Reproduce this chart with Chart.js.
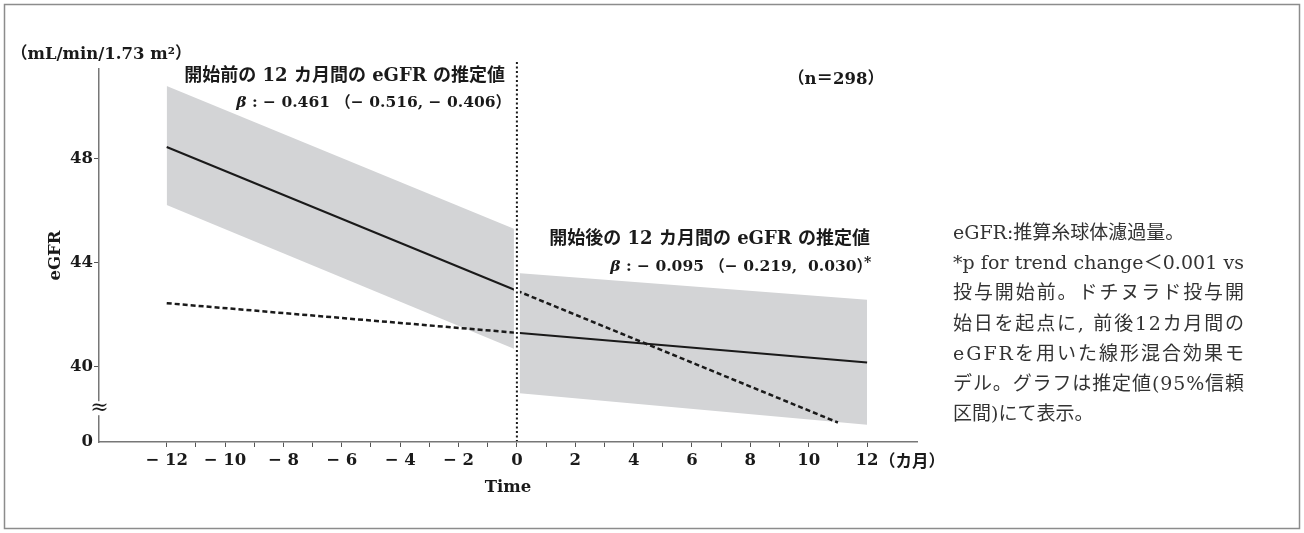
<!DOCTYPE html>
<html>
<head>
<meta charset="utf-8">
<script src="https://cdn.jsdelivr.net/npm/chart.js@4.4.1/dist/chart.umd.min.js"></script>
<style>
  html, body { margin: 0; padding: 0; background: #fff; }
  #egfr { display: block; }
</style>
</head>
<body>
<canvas id="egfr" width="1304" height="533"></canvas>
<script>
// eGFR estimates, months relative to the start of treatment
const preMonths = [-12, 0];
const preEstimate = [48.45, 42.92];
const preUpper = [50.80, 45.26];
const preLower = [46.22, 40.64];

const postMonths = [0, 12];
const postEstimate = [41.30, 40.16];
const postUpper = [43.60, 42.57];
const postLower = [38.99, 37.76];

// pre-start slope carried forward, post-start slope carried back
const preTrendMonths = [0, 11];
const preTrendValues = [42.92, 37.85];
const postTrendMonths = [-12, 0];
const postTrendValues = [42.44, 41.30];

const xTickValues = [-12, -11, -10, -9, -8, -7, -6, -5, -4, -3, -2, -1, 0, 1, 2, 3, 4, 5, 6, 7, 8, 9, 10, 11, 12];
const yTickValues = [40, 44, 48];
const yFloor = 37.1;   // bottom of the broken axis, shown as 0
const yBreak = 38.4;   // where the ≈ break mark sits

const preLabel = '開始前の 12 カ月間の eGFR の推定値';
const preBeta = ' : \u2212 0.461 （\u2212 0.516, \u2212 0.406）';
const postLabel = '開始後の 12 カ月間の eGFR の推定値';
const postBeta = ' : \u2212 0.095 （\u2212 0.219,  0.030）';
const sampleSize = '（n＝298）';
const unitLabel = '（mL/min/1.73 m²）';

const noteLines = [
  'eGFR:推算糸球体濾過量。',
  '*p for trend change＜0.001 vs',
  '投与開始前。ドチヌラド投与開',
  '始日を起点に, 前後12カ月間の',
  'eGFRを用いた線形混合効果モ',
  'デル。グラフは推定値(95%信頼',
  '区間)にて表示。'
];
const justified = [false, true, true, true, true, true, false];

const pts = (xs, ys) => xs.map((x, i) => ({ x, y: ys[i] }));

const INK = '#1a1a1a';
const BAND = '#d3d4d6';
const BOLD = "bold 16.5px 'DejaVu Serif', 'Noto Sans CJK JP'";
const tickFont = { family: "'DejaVu Serif'", size: 16.5, weight: 'bold' };

function line(data, dash, width) {
  return {
    data, showLine: true, pointRadius: 0, fill: false,
    borderColor: INK, borderWidth: width, borderDash: dash, order: 1
  };
}
function band(data, fill) {
  return {
    data, showLine: true, pointRadius: 0, fill,
    borderColor: 'rgba(0,0,0,0)', backgroundColor: BAND, order: 2
  };
}

// draw a row of differently styled pieces, right-aligned at xRight
function drawRuns(ctx, runs, xRight, y) {
  let total = 0;
  runs.forEach(r => { ctx.font = r.font; r.w = ctx.measureText(r.text).width; total += r.w; });
  let cx = xRight - total;
  runs.forEach(r => { ctx.font = r.font; ctx.fillText(r.text, cx, y); cx += r.w; });
}

const decorations = {
  id: 'decorations',
  beforeDraw(chart) {
    const { ctx, width, height } = chart;
    ctx.save();
    ctx.fillStyle = '#fff';
    ctx.fillRect(0, 0, width, height);
    ctx.strokeStyle = '#8c8c8c';
    ctx.lineWidth = 1.5;
    ctx.strokeRect(4.5, 4.5, width - 9, height - 9);
    ctx.restore();
  },
  afterDatasetsDraw(chart) {
    const { ctx, chartArea, scales: { x } } = chart;
    const x0 = x.getPixelForValue(0);
    ctx.save();
    // gap around the treatment start, then the dotted marker
    ctx.fillStyle = '#fff';
    ctx.fillRect(x0 - 3, chartArea.top - 10, 6, chartArea.bottom - chartArea.top + 9);
    ctx.strokeStyle = INK;
    ctx.lineWidth = 2;
    ctx.setLineDash([2, 2.5]);
    ctx.beginPath();
    ctx.moveTo(x0, chartArea.top - 7);
    ctx.lineTo(x0, chartArea.bottom - 1);
    ctx.stroke();
    ctx.restore();
  },
  afterDraw(chart) {
    const { ctx, chartArea, scales: { x, y } } = chart;
    ctx.save();
    ctx.fillStyle = INK;
    ctx.textBaseline = 'middle';

    // axis break
    const by = y.getPixelForValue(yBreak);
    ctx.fillStyle = '#fff';
    ctx.fillRect(chartArea.left - 8, by - 7, 16, 14);
    ctx.fillStyle = INK;
    ctx.font = "22px 'DejaVu Serif'";
    ctx.textAlign = 'center';
    ctx.fillText('≈', chartArea.left + 0.5, by);

    // unit and month labels
    ctx.textAlign = 'left';
    ctx.font = BOLD;
    ctx.fillText(unitLabel, 11, 55);
    ctx.fillText('（カ月）', x.getPixelForValue(12) + 12, 463);

    ctx.textAlign = 'center';
    ctx.fillText(sampleSize, 836, 80);

    // slope annotations
    ctx.textAlign = 'left';
    const titleFont = "bold 18px 'DejaVu Serif', 'Noto Sans CJK JP'";
    const betaFont = "bold 15.5px 'DejaVu Serif', 'Noto Sans CJK JP'";
    const betaItalic = "italic bold 15.5px 'DejaVu Serif'";
    drawRuns(ctx, [{ text: preLabel, font: titleFont }], 505, 76);
    drawRuns(ctx, [{ text: 'β', font: betaItalic }, { text: preBeta, font: betaFont }], 511, 103);
    drawRuns(ctx, [{ text: postLabel, font: titleFont }], 870, 239);
    drawRuns(ctx, [{ text: 'β', font: betaItalic }, { text: postBeta, font: betaFont }], 872, 267);
    ctx.font = "bold 14px 'DejaVu Serif'";
    ctx.fillText('*', 864, 263);

    // footnote, justified like a printed column
    ctx.fillStyle = '#333';
    ctx.font = "19px 'DejaVu Serif', 'Noto Sans CJK JP'";
    const noteLeft = 953, noteRight = 1244;
    noteLines.forEach((t, i) => {
      ctx.letterSpacing = '0px';
      if (justified[i]) {
        const w = ctx.measureText(t).width;
        const n = [...t].length;
        ctx.letterSpacing = ((noteRight - noteLeft - w) / (n - 1)) + 'px';
      }
      ctx.fillText(t, noteLeft, 234 + i * 30.2);
    });
    ctx.letterSpacing = '0px';
    ctx.restore();
  }
};

new Chart(document.getElementById('egfr'), {
  type: 'scatter',
  data: {
    datasets: [
      line(pts(preMonths, preEstimate), [], 2),
      line(pts(postMonths, postEstimate), [], 2),
      line(pts(preTrendMonths, preTrendValues), [5, 3], 2.5),
      line(pts(postTrendMonths, postTrendValues), [5, 3], 2.5),
      band(pts(preMonths, preUpper), '+1'),
      band(pts(preMonths, preLower), false),
      band(pts(postMonths, postUpper), '+1'),
      band(pts(postMonths, postLower), false)
    ]
  },
  options: {
    responsive: false,
    devicePixelRatio: 1,
    animation: false,
    layout: { padding: { left: 0, top: 69, right: 387, bottom: 0 } },
    plugins: { legend: { display: false }, tooltip: { enabled: false } },
    scales: {
      x: {
        type: 'linear',
        min: -14.32,
        max: 13.71,
        afterBuildTicks: s => { s.ticks = xTickValues.map(v => ({ value: v })); },
        afterFit: s => { s.height = 91; },
        ticks: {
          autoSkip: false, maxRotation: 0, padding: 4, color: INK,
          font: tickFont,
          callback: v => (v % 2 !== 0 ? '' : v < 0 ? '\u2212 ' + Math.abs(v) : String(v))
        },
        grid: { drawOnChartArea: false, tickLength: 5, color: '#555' },
        border: { color: '#777', width: 1.5 },
        title: {
          display: true, text: 'Time', color: INK,
          font: tickFont,
          padding: { top: 0, bottom: 35 }
        }
      },
      y: {
        type: 'linear',
        min: yFloor,
        max: 51.45,
        afterBuildTicks: s => { s.ticks = [yFloor, ...yTickValues].map(v => ({ value: v })); },
        afterFit: s => { s.width = 99; },
        ticks: {
          padding: 1, color: INK,
          font: tickFont,
          callback: v => (v === yFloor ? '0' : String(v))
        },
        grid: {
          drawOnChartArea: false, tickLength: 5,
          color: c => (c.tick && c.tick.value === yFloor ? 'rgba(0,0,0,0)' : '#555')
        },
        border: { color: '#777', width: 1.5 },
        title: {
          display: true, text: 'eGFR', color: INK,
          font: tickFont,
          padding: { top: 46, bottom: 0 }
        }
      }
    }
  },
  plugins: [decorations]
});
</script>
</body>
</html>
